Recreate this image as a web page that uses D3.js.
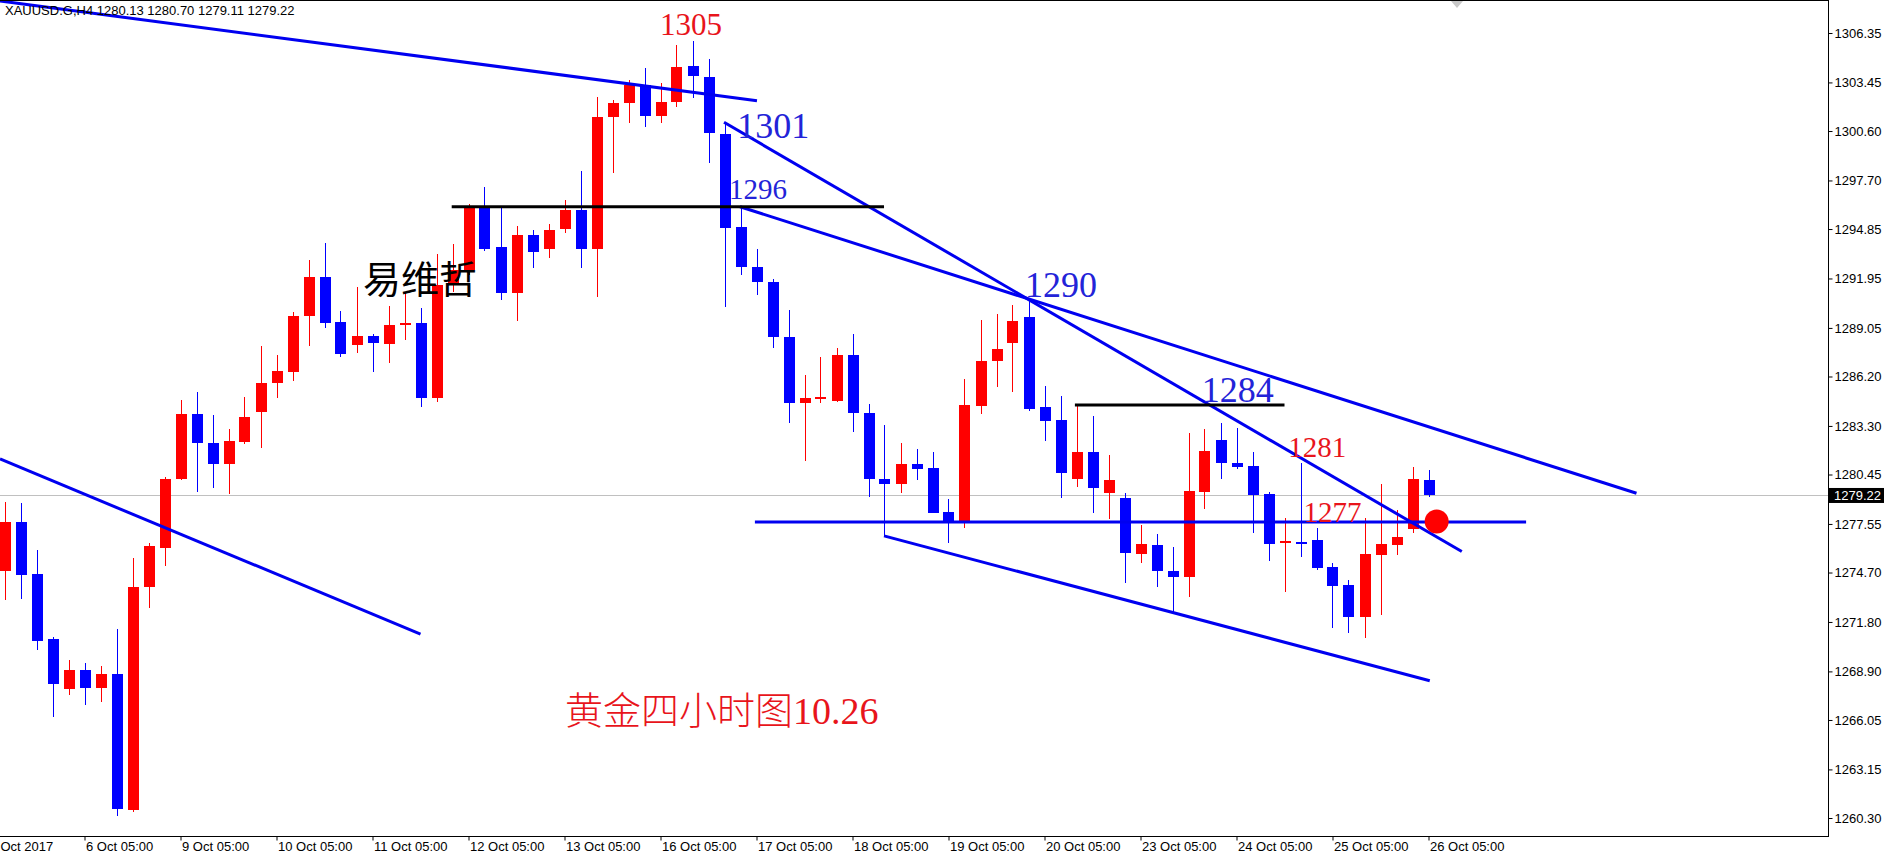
<!DOCTYPE html>
<html><head><meta charset="utf-8">
<script src="https://cdn.jsdelivr.net/npm/d3@7"></script>
<style>html,body{margin:0;padding:0;background:#fff;overflow:hidden}</style>
</head><body>
<svg id="chart" width="1884" height="853"></svg>
<script>
// ---- data (XAUUSD H4) ----
const opens  = [1274.81,1277.69,1274.62,1270.81,1267.87,1268.99,1267.95,1268.75,1260.78,1273.87,
1276.16,1280.17,1284.00,1282.29,1281.09,1282.38,1284.14,1285.84,1286.49,1289.73,
1292.04,1289.38,1288.07,1288.58,1288.11,1289.28,1289.36,1284.92,1291.57,1292.45,
1296.13,1293.82,1291.08,1294.50,1293.68,1294.84,1295.97,1293.68,1301.41,1302.23,
1303.30,1301.50,1302.29,1304.43,1303.79,1300.41,1294.99,1292.64,1291.76,1288.50,
1284.63,1284.90,1284.78,1287.46,1284.04,1280.19,1279.88,1281.07,1280.82,1278.24,
1277.75,1284.49,1287.13,1288.19,1289.69,1284.41,1283.65,1280.17,1281.79,1279.36,
1279.06,1275.78,1276.32,1274.80,1274.43,1279.45,1282.48,1281.15,1280.95,1279.31,
1276.50,1276.50,1276.61,1275.05,1273.97,1272.12,1275.73,1276.32,1277.24,1280.13];
const highs  = [1278.86,1278.77,1276.03,1270.90,1269.54,1269.42,1269.22,1271.39,1275.57,1276.42,
1280.33,1284.83,1285.29,1283.95,1283.12,1284.98,1288.01,1287.46,1289.99,1293.04,
1294.05,1290.05,1291.44,1288.70,1290.34,1291.10,1290.20,1293.39,1293.97,1296.32,
1297.30,1296.13,1295.03,1294.80,1295.15,1296.56,1298.26,1302.58,1302.42,1303.59,
1304.28,1303.40,1305.65,1305.88,1304.81,1301.09,1296.16,1293.66,1291.90,1290.10,
1286.29,1287.33,1287.86,1288.70,1284.57,1283.36,1282.32,1281.93,1281.76,1279.00,
1286.04,1289.52,1289.87,1290.40,1290.73,1285.65,1285.06,1284.50,1283.89,1281.60,
1279.35,1277.49,1276.97,1276.22,1282.87,1283.11,1283.49,1283.18,1281.79,1279.45,
1277.92,1281.15,1277.30,1275.25,1274.27,1277.89,1279.88,1278.37,1280.91,1280.70];
const lows   = [1273.09,1273.15,1270.16,1266.25,1267.52,1266.94,1267.13,1260.44,1260.68,1272.64,
1275.09,1280.13,1279.45,1279.68,1279.29,1282.23,1281.99,1284.96,1285.94,1288.01,
1289.07,1287.36,1287.60,1286.49,1286.97,1288.34,1284.40,1284.72,1291.16,1292.16,
1293.58,1290.69,1289.48,1292.55,1293.14,1294.60,1292.55,1290.85,1298.16,1301.05,
1300.85,1301.09,1301.99,1302.52,1298.71,1290.26,1292.16,1290.98,1287.86,1283.49,
1281.25,1284.67,1284.72,1282.97,1279.15,1276.85,1279.35,1280.13,1278.18,1276.42,
1277.30,1283.99,1285.56,1285.31,1284.20,1282.44,1279.06,1279.70,1278.22,1277.83,
1274.11,1275.28,1273.84,1272.41,1273.25,1278.41,1280.17,1280.76,1277.04,1275.40,
1273.58,1275.63,1274.85,1271.44,1271.14,1270.85,1272.22,1275.73,1277.04,1279.11];
const closes = [1277.69,1274.56,1270.71,1268.17,1268.99,1267.95,1268.75,1260.85,1273.87,1276.26,
1280.19,1284.00,1282.29,1281.09,1282.42,1283.81,1285.84,1286.53,1289.75,1292.04,
1289.36,1287.54,1288.58,1288.19,1289.22,1289.34,1284.92,1291.57,1292.45,1296.16,
1293.68,1291.08,1294.50,1293.49,1294.80,1295.97,1293.68,1301.41,1302.23,1303.30,
1301.50,1302.29,1304.34,1303.83,1300.47,1294.90,1292.61,1291.76,1288.50,1284.67,
1284.92,1285.02,1287.46,1284.04,1280.17,1279.88,1281.07,1280.76,1278.22,1277.63,
1284.53,1287.11,1287.80,1289.46,1284.30,1283.61,1280.53,1281.79,1279.68,1280.13,
1275.83,1276.38,1274.81,1274.43,1279.51,1281.83,1281.11,1280.91,1279.25,1276.38,
1276.53,1276.47,1274.99,1273.93,1272.12,1275.79,1276.38,1276.81,1280.19,1279.22];

const yTicks = [1306.35,1303.45,1300.60,1297.70,1294.85,1291.95,1289.05,1286.20,1283.30,
1280.45,1277.55,1274.70,1271.80,1268.90,1266.05,1263.15,1260.30];
const xTickBars   = [-0.35,5,11,17,23,29,35,41,47,53,59,65,71,77,83,89];
const xTickLabels = ["Oct 2017","6 Oct 05:00","9 Oct 05:00","10 Oct 05:00","11 Oct 05:00",
"12 Oct 05:00","13 Oct 05:00","16 Oct 05:00","17 Oct 05:00","18 Oct 05:00","19 Oct 05:00",
"20 Oct 05:00","23 Oct 05:00","24 Oct 05:00","25 Oct 05:00","26 Oct 05:00"];
const header = "XAUUSD.G,H4  1280.13 1280.70 1279.11 1279.22";
const lastPrice = 1279.22;

// trend lines in (bar index, price)
const blueLines = [
  [-0.28,1308.23,47.03,1302.38],
  [-0.28,1281.36,26.0,1271.09],
  [44.97,1301.11,91.08,1275.93],
  [45.97,1296.16,102.0,1279.35],
  [46.9,1277.67,95.1,1277.67],
  [54.97,1276.85,89.08,1268.35]
];
const blackLines = [
  [27.95,1296.16,54.97,1296.16],
  [66.9,1284.53,80.0,1284.53]
];
// annotations: text, bar index, price (baseline)
const annoText  = ["1305","1301","1296","1290","1284","1281","1277","易维哲","黄金四小时图10.26"];
const annoBar   = [40.97,45.8,45.28,63.78,74.83,80.24,81.18,22.4,35.03];
const annoPrice = [1306.23,1300.19,1296.61,1290.89,1284.73,1281.47,1277.69,1291.10,1265.80];
const markerBar = 89.51, markerPrice = 1277.69;

// ---- styles ----
const UP = "#ff0000", DOWN = "#0000ff", LINE_BLUE = "#0000f0";
const annoColor = ["#e8141b","#2323d8","#2323d8","#2323d8","#2323d8","#e8141b","#e8141b","#000","#e8141b"];
const annoSize  = [31,36,29,36,36,29,29,38,38];
const annoFont  = ["Liberation Serif","Liberation Serif","Liberation Serif","Liberation Serif","Liberation Serif",
  "Liberation Serif","Liberation Serif","Noto Sans CJK SC","Liberation Serif, Noto Sans CJK SC"];
const annoWeight = [400,400,400,400,400,400,400,400,300];

const W = 1828, H = 836;
const svg = d3.select("#chart");
const x = d3.scaleLinear().domain([0, 89]).range([4.5, 1428.5]);
const y = d3.scaleLinear().domain([1260.30, 1306.35]).range([818, 33]);

svg.append("defs").append("clipPath").attr("id","clip")
  .append("rect").attr("x",0).attr("y",0).attr("width",W).attr("height",H);

const plot = svg.append("g").attr("clip-path","url(#clip)");

// current price line
plot.append("line").attr("x1",0).attr("x2",W)
  .attr("y1",Math.round(y(lastPrice))+0.5).attr("y2",Math.round(y(lastPrice))+0.5)
  .attr("stroke","#c0c0c0").attr("stroke-width",1);

// candles
const bars = d3.range(opens.length).map(i => ({i, o:opens[i], h:highs[i], l:lows[i], c:closes[i]}));
const cg = plot.append("g").attr("shape-rendering","crispEdges");
const cs = cg.selectAll("g").data(bars).join("g");
cs.append("line")
  .attr("x1", d => Math.round(x(d.i)) + 0.5).attr("x2", d => Math.round(x(d.i)) + 0.5)
  .attr("y1", d => y(d.h)).attr("y2", d => y(d.l))
  .attr("stroke", d => d.c >= d.o ? UP : DOWN).attr("stroke-width", 1.3);
cs.append("rect")
  .attr("x", d => Math.round(x(d.i)) - 5).attr("width", 11)
  .attr("y", d => y(Math.max(d.o, d.c)))
  .attr("height", d => Math.max(2, Math.abs(y(d.o) - y(d.c))))
  .attr("fill", d => d.c >= d.o ? UP : DOWN);

// trend lines
plot.selectAll(".bl").data(blueLines).join("line").attr("class","bl")
  .attr("x1", d => x(d[0])).attr("y1", d => y(d[1]))
  .attr("x2", d => x(d[2])).attr("y2", d => y(d[3]))
  .attr("stroke", LINE_BLUE).attr("stroke-width", 3);
plot.selectAll(".kl").data(blackLines).join("line").attr("class","kl")
  .attr("x1", d => x(d[0])).attr("y1", d => y(d[1]))
  .attr("x2", d => x(d[2])).attr("y2", d => y(d[3]))
  .attr("stroke", "#000").attr("stroke-width", 3);

// annotations
plot.selectAll(".an").data(annoText).join("text").attr("class","an")
  .attr("x", (d,i) => x(annoBar[i])).attr("y", (d,i) => y(annoPrice[i]))
  .attr("fill", (d,i) => annoColor[i])
  .attr("font-family", (d,i) => annoFont[i])
  .attr("font-size", (d,i) => annoSize[i])
  .attr("font-weight", (d,i) => annoWeight[i])
  .text(d => d);

// red marker
plot.append("circle").attr("cx", x(markerBar)).attr("cy", y(markerPrice)).attr("r", 12)
  .attr("fill", "#ff0000");

// frame
const fr = svg.append("g").attr("stroke","#000").attr("stroke-width",1).attr("shape-rendering","crispEdges");
fr.append("line").attr("x1",0).attr("x2",W+0.5).attr("y1",0.5).attr("y2",0.5);
fr.append("line").attr("x1",W+0.5).attr("x2",W+0.5).attr("y1",0).attr("y2",H+0.5);
fr.append("line").attr("x1",0).attr("x2",W+0.5).attr("y1",H+0.5).attr("y2",H+0.5);

// y axis
const ya = svg.append("g").attr("transform",`translate(${W+0.5},0)`)
  .call(d3.axisRight(y).tickValues(yTicks).tickSize(4).tickFormat(d3.format(".2f")));
ya.select(".domain").remove();
ya.selectAll("text").attr("x",6).attr("font-family","Liberation Sans").attr("font-size",13).attr("fill","#000");
ya.selectAll("line").attr("stroke","#000");

// x axis
const xa = svg.append("g").attr("transform",`translate(0,${H+0.5})`)
  .call(d3.axisBottom(x).tickValues(xTickBars).tickSize(4).tickFormat((d,i) => xTickLabels[i]));
xa.select(".domain").remove();
xa.selectAll("text").attr("text-anchor","start").attr("x",1).attr("y",5)
  .attr("font-family","Liberation Sans").attr("font-size",13).attr("fill","#000");
xa.selectAll("line").attr("stroke","#000");

// last price label
const ly = y(lastPrice);
svg.append("rect").attr("x",W+1).attr("y",ly-7.5).attr("width",1884-W-1).attr("height",15).attr("fill","#000");
svg.append("text").attr("x",W+6).attr("y",ly).attr("dy","0.35em")
  .attr("font-family","Liberation Sans").attr("font-size",13).attr("fill","#fff").text(d3.format(".2f")(lastPrice));

// header
svg.append("text").attr("x",5).attr("y",15).attr("font-family","Liberation Sans").attr("font-size",13)
  .attr("fill","#000").text(header);

// shift marker
svg.append("path").attr("d","M1451,1L1463,1L1457,8Z").attr("fill","#c8c8c8");
</script>
</body></html>
